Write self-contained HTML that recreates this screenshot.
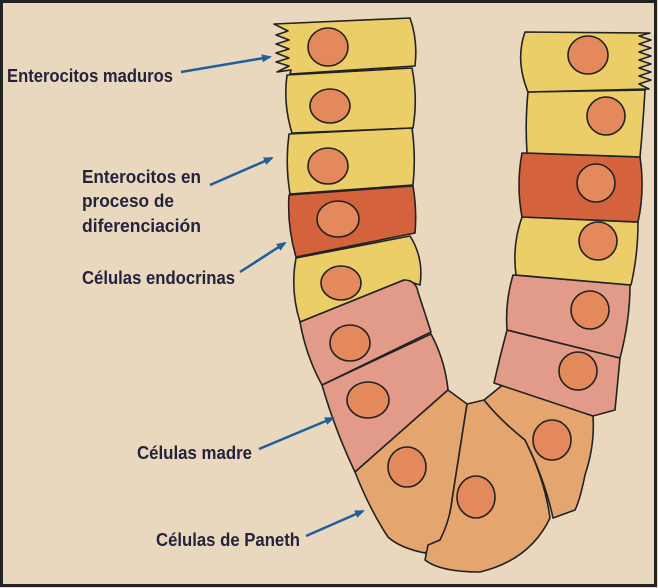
<!DOCTYPE html>
<html><head><meta charset="utf-8"><style>
html,body{margin:0;padding:0;background:#ead8be;}
svg{display:block}
text{font-family:"Liberation Sans Narrow","Liberation Sans",sans-serif;font-weight:bold;fill:#23233d;font-size:18px}
</style></head><body>
<svg width="658" height="588" viewBox="0 0 658 588" xmlns="http://www.w3.org/2000/svg">
<defs>
<marker id="ah" markerWidth="10" markerHeight="8" refX="8" refY="4" orient="auto" markerUnits="userSpaceOnUse">
<path d="M0,0 L10,4 L0,8 Z" fill="#1f5f9b"/></marker>
</defs>
<rect x="1.5" y="1.5" width="654" height="584" fill="#ead8be" stroke="#222" stroke-width="3"/>
<g stroke="#222" stroke-width="1.6" stroke-linejoin="round">
<!-- left column -->
<path d="M274,24 L410,18 Q418,40 415,66 L290,74 L291,70 L277,72 L289,66 L276,62 L289,58 L276,53 L289,49 L276,44 L289,40 L276,35 L288,31 Z" fill="#ecce68"/>
<path d="M287,75 L412,68 Q418,98 413,128 L292,133 Q283,104 287,75 Z" fill="#ecce68"/>
<path d="M289,134 L412,128 Q416,156 413,185 L290,194 Q285,164 289,134 Z" fill="#ecce68"/>
<path d="M289,195 L413,186 Q417,210 415,233 L296,257 Q287,226 289,195 Z" fill="#d4623c"/>
<path d="M296,258 L410,236 Q424,258 420,285 L404,280 L300,322 Q290,290 296,258 Z" fill="#ecce68"/>
<path d="M300,322 L404,280 Q416,280 418,292 L431,332 L322,385 Q306,356 300,322 Z" fill="#e29b88"/>
<path d="M322,385 L431,334 Q445,360 448,390 L355,472 Q335,430 322,385 Z" fill="#e29b88"/>
<path d="M355,472 L448,390 L467,404 L452,500 Q448,530 440,540 L425,553 Q400,548 388,537 Q370,510 355,472 Z" fill="#e5a56f"/>
<path d="M467,404 L484,400 Q500,420 525,440 Q545,480 550,518 Q530,560 480,572 Q440,572 425,560 L428,545 L440,540 Q450,520 452,500 Z" fill="#e5a56f"/>
<path d="M484,400 L505,383 L593,416 Q595,445 585,475 Q580,500 575,510 L553,518 Q545,480 525,440 Q500,420 484,400 Z" fill="#e5a56f"/>
<!-- right column -->
<path d="M494,383 Q500,356 507,330 L620,358 L615,410 L593,416 Z" fill="#e29b88"/>
<path d="M507,330 Q505,302 513,275 L630,285 Q630,320 620,358 Z" fill="#e29b88"/>
<path d="M516,275 Q512,245 522,217 L638,222 Q638,255 631,285 Z" fill="#ecce68"/>
<path d="M522,217 Q516,185 522,153 L640,157 Q645,190 638,222 Z" fill="#d4623c"/>
<path d="M527,153 Q525,122 528,92 L645,90 Q643,125 640,157 Z" fill="#ecce68"/>
<path d="M525,32 L650,33 L639,36 L651,40 L639,44 L651,48 L639,52 L651,56 L639,60 L651,64 L639,68 L651,72 L639,76 L651,80 L639,84 L649,89 L528,92 Q515,60 525,32 Z" fill="#ecce68"/>
</g>
<g fill="#e3895c" stroke="#222" stroke-width="1.6">
<ellipse cx="328" cy="47" rx="20" ry="19"/>
<ellipse cx="330" cy="106" rx="20" ry="17"/>
<ellipse cx="328" cy="166" rx="20" ry="18"/>
<ellipse cx="338" cy="219" rx="21" ry="18"/>
<ellipse cx="341" cy="283" rx="20" ry="17"/>
<ellipse cx="350" cy="343" rx="20" ry="18"/>
<ellipse cx="368" cy="400" rx="21" ry="18"/>
<ellipse cx="407" cy="467" rx="19" ry="20"/>
<ellipse cx="476" cy="497" rx="19" ry="21"/>
<ellipse cx="552" cy="440" rx="19" ry="20"/>
<ellipse cx="578" cy="371" rx="19" ry="19"/>
<ellipse cx="590" cy="310" rx="19" ry="19"/>
<ellipse cx="598" cy="241" rx="19" ry="19"/>
<ellipse cx="596" cy="183" rx="19" ry="19"/>
<ellipse cx="606" cy="116" rx="19" ry="19"/>
<ellipse cx="588" cy="55" rx="20" ry="19"/>
</g>
<g stroke="#1f5f9b" stroke-width="2.5" fill="none" marker-end="url(#ah)">
<line x1="181" y1="72" x2="270" y2="57"/>
<line x1="210" y1="185" x2="272" y2="158"/>
<line x1="240" y1="272" x2="285" y2="243"/>
<line x1="259" y1="449" x2="333" y2="418"/>
<line x1="306" y1="536" x2="363" y2="511"/>
</g>
<text x="7" y="82" textLength="166" lengthAdjust="spacingAndGlyphs">Enterocitos maduros</text>
<text x="82" y="183" textLength="119" lengthAdjust="spacingAndGlyphs">Enterocitos en</text>
<text x="82" y="207" textLength="92" lengthAdjust="spacingAndGlyphs">proceso de</text>
<text x="82" y="232" textLength="119" lengthAdjust="spacingAndGlyphs">diferenciación</text>
<text x="82" y="284" textLength="153" lengthAdjust="spacingAndGlyphs">Células endocrinas</text>
<text x="137" y="459" textLength="115" lengthAdjust="spacingAndGlyphs">Células madre</text>
<text x="156" y="546" textLength="144" lengthAdjust="spacingAndGlyphs">Células de Paneth</text>
</svg>
</body></html>
